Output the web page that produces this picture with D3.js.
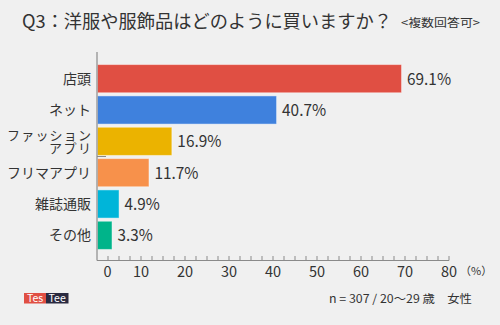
<!DOCTYPE html>
<html>
<head>
<meta charset="utf-8">
<script src="https://cdn.jsdelivr.net/npm/d3@7"></script>
<style>
  html, body { margin: 0; padding: 0; background: #f0f0f0; }
  svg { display: block; }
  text { font-family: "Noto Sans CJK JP", "Noto Sans", sans-serif; fill: #333; }
</style>
</head>
<body>
<svg id="chart" width="500" height="325"></svg>
<script>
// Survey results: how respondents buy clothing (multiple answers allowed)
const categories = ["店頭", "ネット", "ファッションアプリ", "フリマアプリ", "雑誌通販", "その他"];
const categoryLines = [["店頭"], ["ネット"], ["ファッション", "アプリ"], ["フリマアプリ"], ["雑誌通販"], ["その他"]];
const values = [69.1, 40.7, 16.9, 11.7, 4.9, 3.3];
const colors = ["#e04f43", "#3f81dd", "#ebb300", "#f7914b", "#00b5d9", "#00b48a"];
const tickValues = [0, 10, 20, 30, 40, 50, 60, 70, 80];
const minorTicks = d3.range(2.5, 80.01, 2.5);

const svg = d3.select("#chart");

const x = d3.scaleLinear().domain([0, 80]).range([97, 449]);
const y = d3.scaleBand().domain(categories).range([63, 251]).paddingInner(0.1).paddingOuter(0.05);

// Title
svg.append("text")
  .attr("x", 22).attr("y", 28)
  .attr("font-size", 18)
  .attr("textLength", 370).attr("lengthAdjust", "spacingAndGlyphs")
  .text("Q3：洋服や服飾品はどのように買いますか？");
svg.append("text")
  .attr("x", 401).attr("y", 27)
  .attr("font-size", 11.5)
  .attr("textLength", 79).attr("lengthAdjust", "spacingAndGlyphs")
  .text("<複数回答可>");

// Bars
svg.append("g").selectAll("rect")
  .data(categories)
  .join("rect")
  .attr("x", x(0) + 0.5)
  .attr("y", d => y(d))
  .attr("width", (d, i) => x(values[i]) - x(0))
  .attr("height", y.bandwidth())
  .attr("fill", (d, i) => colors[i])
  .attr("stroke", "#ffffff")
  .attr("stroke-opacity", 0.45)
  .attr("stroke-width", 1);

// Value labels
svg.append("g").selectAll("text")
  .data(categories)
  .join("text")
  .attr("x", (d, i) => x(values[i]) + 6)
  .attr("y", d => y(d) + y.bandwidth() / 2 + 6)
  .attr("font-size", 16)
  .each(function(d, i) {
    const label = values[i].toFixed(1) + "%";
    d3.select(this)
      .attr("textLength", label.length * 8.8)
      .attr("lengthAdjust", "spacingAndGlyphs")
      .text(label);
  });

// Category labels
const catG = svg.append("g").selectAll("text")
  .data(categories)
  .join("text")
  .attr("text-anchor", "end")
  .attr("font-size", (d, i) => categoryLines[i].length > 1 ? 13 : 14)
  .attr("y", (d, i) => {
    const n = categoryLines[i].length;
    return y(d) + y.bandwidth() / 2 + 5 - (n - 1) * 6.5;
  });
catG.each(function(d, i) {
  const t = d3.select(this);
  categoryLines[i].forEach((line, k) => {
    t.append("tspan")
      .attr("x", 91)
      .attr("dy", k === 0 ? 0 : 13)
      .attr("textLength", line.length * 14)
      .attr("lengthAdjust", "spacing")
      .text(line);
  });
});

// Axes lines
const axisColor = "#8a8a8a";
svg.append("line")
  .attr("x1", x(0)).attr("x2", x(0))
  .attr("y1", 52).attr("y2", 260.5)
  .attr("stroke", axisColor).attr("stroke-width", 1.2);
svg.append("line")
  .attr("x1", x(0)).attr("x2", x(80))
  .attr("y1", 260.5).attr("y2", 260.5)
  .attr("stroke", axisColor).attr("stroke-width", 1.2);
svg.append("line")
  .attr("x1", x(0)).attr("x2", x(0) + 9)
  .attr("y1", 156.5).attr("y2", 156.5)
  .attr("stroke", axisColor).attr("stroke-width", 1);

// Minor ticks along the bottom axis
svg.append("g").selectAll("line")
  .data(minorTicks)
  .join("line")
  .attr("x1", d => x(d)).attr("x2", d => x(d))
  .attr("y1", 256).attr("y2", 260.5)
  .attr("stroke", axisColor).attr("stroke-width", 1);

// Tick labels
svg.append("g").selectAll("text")
  .data(tickValues)
  .join("text")
  .attr("text-anchor", "middle")
  .attr("x", d => d === 0 ? x(0) + 10.5 : x(d))
  .attr("y", 276.5)
  .attr("font-size", 14.5)
  .text(d => d);
svg.append("text")
  .attr("x", 460).attr("y", 275)
  .attr("font-size", 11)
  .text("（%）");

// Footer
svg.append("text")
  .attr("x", 329).attr("y", 303)
  .attr("font-size", 11.5)
  .attr("textLength", 143).attr("lengthAdjust", "spacingAndGlyphs")
  .text("n = 307 / 20〜29 歳　女性");

// Logo
const logo = svg.append("g");
logo.append("rect").attr("x", 24).attr("y", 293).attr("width", 22).attr("height", 10.5).attr("fill", "#e04f43");
logo.append("rect").attr("x", 46).attr("y", 293).attr("width", 22.5).attr("height", 10.5).attr("fill", "#2a2a40");
logo.append("text").attr("x", 35).attr("y", 302).attr("text-anchor", "middle")
  .attr("font-size", 10.5).attr("font-family", "DejaVu Sans").style("fill", "#fff").text("Tes");
logo.append("text").attr("x", 57.2).attr("y", 302).attr("text-anchor", "middle")
  .attr("font-size", 10.5).attr("font-family", "DejaVu Sans").style("fill", "#fff").text("Tee");
</script>
</body>
</html>
